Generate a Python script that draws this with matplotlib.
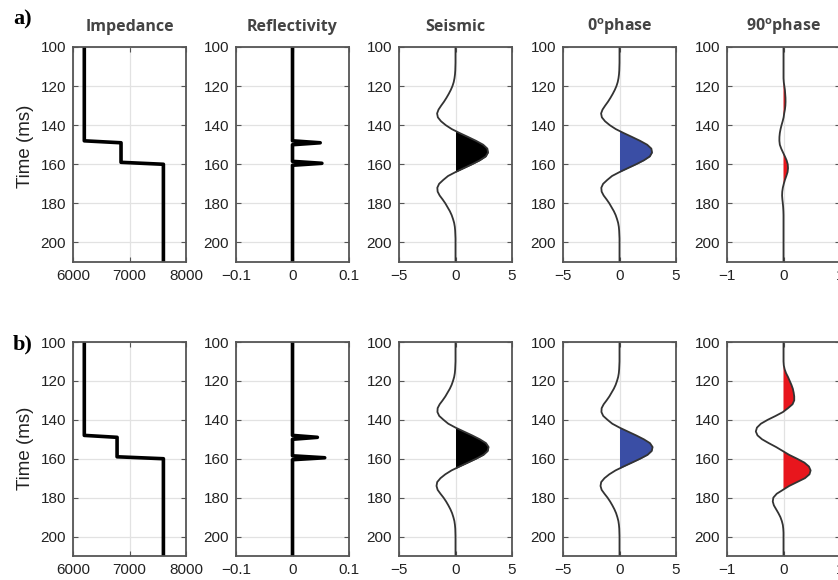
import numpy as np
import matplotlib.pyplot as plt

plt.rcParams['font.family'] = ['Liberation Sans', 'DejaVu Sans']
plt.rcParams['mathtext.default'] = 'regular'

# two-way time (ms), sampling of the wiggle traces
t = np.arange(100, 212, 2)

# impedance model: corner points of the blocky log
imp_t = [100, 148, 149, 159, 160, 210]
imp_a = [6200, 6200, 6850, 6850, 7600, 7600]
imp_b = [6200, 6200, 6780, 6780, 7600, 7600]

# reflection coefficient spikes
refl_t = [100, 148, 149, 150, 158.5, 159.5, 160.5, 210]
refl_a = [0, 0, 0.049, 0, 0, 0.052, 0, 0]
refl_b = [0, 0, 0.044, 0, 0, 0.057, 0, 0]

# synthetic seismic (same trace is used for the 0 deg phase panel)
seis_a = np.array([0, 0, 0, 0, 0, -0.01, -0.02, -0.045, -0.09, -0.16,
                   -0.27, -0.42, -0.6, -0.8, -1.02, -1.27, -1.5, -1.63, -1.56, -1.28,
                   -0.86, -0.33, 0.36, 1.1, 1.82, 2.45, 2.82, 2.88, 2.68, 2.15,
                   1.47, 0.73, 0.0, -0.66, -1.08, -1.45, -1.61, -1.58, -1.4, -1.14,
                   -0.9, -0.7, -0.5, -0.34, -0.22, -0.12, -0.06, -0.03, -0.015, 0,
                   0, 0, 0, 0, 0, 0])
seis_b = np.array([0, 0, 0, 0, 0, 0, -0.015, -0.03, -0.06, -0.12,
                   -0.22, -0.34, -0.5, -0.7, -0.9, -1.14, -1.4, -1.58, -1.6, -1.44,
                   -1.06, -0.64, 0.0, 0.73, 1.47, 2.15, 2.7, 2.93, 2.85, 2.48,
                   1.83, 1.1, 0.36, -0.35, -0.9, -1.33, -1.62, -1.68, -1.58, -1.33,
                   -1.06, -0.83, -0.63, -0.45, -0.3, -0.19, -0.1, -0.05, -0.02, -0.01,
                   0, 0, 0, 0, 0, 0])

# 90 deg phase rotated component
ph90_a = np.array([0, 0, 0, 0, 0, 0, 0, 0, 0, 0.005,
                   0.015, 0.025, 0.03, 0.035, 0.036, 0.033, 0.025, 0.012, 0.002, -0.015,
                   -0.035, -0.052, -0.065, -0.072, -0.073, -0.065, -0.04, -0.008, 0.025, 0.055,
                   0.075, 0.08, 0.072, 0.05, 0.025, 0.005, -0.012, -0.022, -0.025, -0.02,
                   -0.012, -0.006, -0.002, 0, 0, 0, 0, 0, 0, 0,
                   0, 0, 0, 0, 0, 0])
ph90_b = np.array([0, 0, 0, 0, 0, 0, 0.005, 0.02, 0.045, 0.08,
                   0.11, 0.14, 0.165, 0.18, 0.19, 0.19, 0.16, 0.08, -0.01, -0.14,
                   -0.28, -0.4, -0.47, -0.49, -0.46, -0.38, -0.26, -0.13, -0.015, 0.1,
                   0.24, 0.37, 0.45, 0.48, 0.46, 0.38, 0.24, 0.1, -0.01, -0.12,
                   -0.18, -0.19, -0.17, -0.13, -0.09, -0.055, -0.03, -0.012, -0.004, 0,
                   0, 0, 0, 0, 0, 0])

titles = ['Impedance', 'Reflectivity', 'Seismic',
          '0$^{o}$phase', '90$^{o}$phase']
xlims = [(6000, 8000), (-0.1, 0.1), (-5, 5), (-5, 5), (-1, 1)]
xticks = [[6000, 7000, 8000], [-0.1, 0, 0.1], [-5, 0, 5], [-5, 0, 5], [-1, 0, 1]]
xticklabels = [['6000', '7000', '8000'], ['\u22120.1', '0', '0.1'],
               ['\u22125', '0', '5'], ['\u22125', '0', '5'], ['\u22121', '0', '1']]

W, H = 838, 580
lefts = [73, 236, 399, 563, 727]
pw = 113
rows = [(47, 262), (342, 556)]

fig = plt.figure(figsize=(W / 100, H / 100), dpi=100)


def panel(col, row):
    top, bot = rows[row]
    ax = fig.add_axes([lefts[col] / W, 1 - bot / H, pw / W, (bot - top) / H])
    ax.set_ylim(210, 100)
    ax.set_yticks(range(100, 201, 20))
    ax.set_xlim(*xlims[col])
    ax.set_xticks(xticks[col])
    ax.set_xticklabels(xticklabels[col])
    ax.grid(True, color='#e2e2e2', lw=0.9)
    ax.set_axisbelow(True)
    ax.tick_params(direction='in', top=True, right=True, length=3.5, width=0.8,
                   color='#555', labelsize=11, labelcolor='#222', pad=5)
    for s in ax.spines.values():
        s.set_color('#555')
        s.set_linewidth(1.3)
    return ax


def wiggle(ax, x, color):
    ax.fill_betweenx(t, 0, x, where=x > 0, interpolate=True, color=color, lw=0)
    ax.plot(x, t, color='#333333', lw=1.3)


for row, (imp, refl, seis, ph90) in enumerate([(imp_a, refl_a, seis_a, ph90_a),
                                                (imp_b, refl_b, seis_b, ph90_b)]):
    ax = panel(0, row)
    ax.plot(imp, imp_t, color='black', lw=2.6)
    ax = panel(1, row)
    ax.plot(refl, refl_t, color='black', lw=2.6)
    ax = panel(2, row)
    wiggle(ax, seis, 'black')
    ax = panel(3, row)
    wiggle(ax, seis, '#3a4ea5')
    ax = panel(4, row)
    wiggle(ax, ph90, '#e8161d')

# column titles
for col, title in enumerate(titles):
    fig.text((lefts[col] + pw / 2) / W, 1 - 27 / H, title, ha='center', va='center',
             fontsize=11.5, fontweight='bold', color='#444444', family='Open Sans')

# axis label and panel letters
for yc in (146, 448):
    fig.text(25 / W, 1 - yc / H, 'Time (ms)', rotation=90, ha='center', va='center',
             fontsize=13.5, color='#222222')
fig.text(13 / W, 1 - 19 / H, 'a)', ha='left', va='center', fontsize=16,
         fontweight='bold', family='Liberation Serif')
fig.text(13 / W, 1 - 344 / H, 'b)', ha='left', va='center', fontsize=16,
         fontweight='bold', family='Liberation Serif')

fig.savefig('out.png', dpi=100)
